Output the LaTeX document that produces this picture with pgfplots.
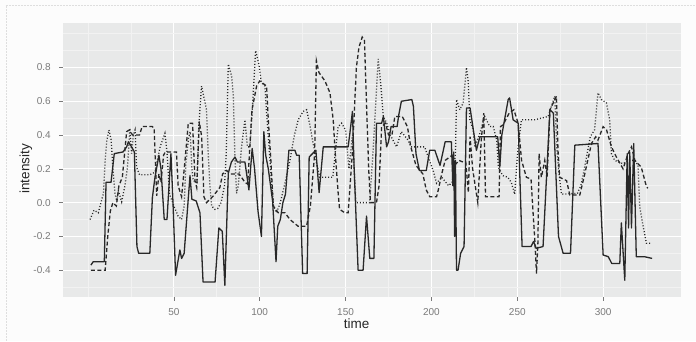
\documentclass[border=0pt]{standalone}
\usepackage{pgfplots}
\pgfplotsset{compat=1.18}
\usepackage{fontspec}
\setmainfont{Liberation Sans}
\definecolor{panelbg}{RGB}{232,233,233}
\definecolor{minorgrid}{RGB}{242,242,242}
\definecolor{ticklab}{RGB}{122,122,122}
\definecolor{linec}{RGB}{40,40,40}
\definecolor{pagebg}{RGB}{252,252,252}
\definecolor{framec}{RGB}{222,222,222}
\begin{document}
\begin{tikzpicture}[x=1pt,y=1pt]
\fill[pagebg] (0,0) rectangle (696,341);
\draw[framec, densely dotted, line width=0.5pt] (6,0) -- (6,336) -- (696,336);
\begin{axis}[
  at={(63.3pt,44pt)}, anchor=south west,
  scale only axis, width=617.7pt, height=274.3pt,
  xmin=-14.4, xmax=345.2, ymin=-0.558, ymax=1.065,
  axis background/.style={fill=panelbg},
  axis line style={draw=none},
  xtick={50,100,150,200,250,300},
  xticklabels={50,100,150,200,250,300},
  minor xtick={0,25,75,125,175,225,275,325},
  ytick={-0.4,-0.2,0,0.2,0.4,0.6,0.8},
  yticklabels={-0.4,-0.2,0.0,0.2,0.4,0.6,0.8},
  minor ytick={-0.5,-0.3,-0.1,0.1,0.3,0.5,0.7,0.9,1.0},
  grid=both,
  major grid style={white, line width=0.9pt},
  minor grid style={minorgrid, line width=0.6pt},
  tick align=outside,
  major tick length=4pt, minor tick length=0pt,
  tick style={ticklab, line width=0.5pt},
  xtick pos=bottom, ytick pos=left,
  /pgf/number format/assume math mode=true,
  ticklabel style={font=\fontsize{10}{12}\selectfont, text=ticklab, inner sep=0pt},
  xticklabel style={anchor=center, yshift=-11pt},
  yticklabel style={anchor=east, xshift=-8.4pt},
  xlabel={time},
  xlabel style={font=\fontsize{13.5}{15}\selectfont, text=black!85, at={(axis description cs:0.475,0)}, anchor=center, yshift=-26.3pt},
  clip=true,
]
% solid
\addplot[linec, line width=1.3pt, line join=round] coordinates {
(1.7,-0.37)(3,-0.35)(9.5,-0.35)(10.5,0.12)(13.4,0.12)(15.3,0.29)(20.4,0.30)(22.5,0.33)(23.5,0.36)(25.4,0.33)(27,0.30)(28.5,-0.26)(29.5,-0.30)(36,-0.30)(37.5,0.03)(39,0.15)(41.3,0.28)(42.5,0.2)(44.4,-0.10)(46,-0.10)(48.3,0.29)(49.5,0.0)(51,-0.43)(53.5,-0.28)(54.5,-0.33)(56,-0.3)(59.4,0.16)(60.5,0.02)(63,0.01)(65.2,-0.06)(67,-0.47)(74,-0.47)(76.2,-0.15)(78.2,-0.17)(79.7,-0.49)(81.7,0.175)(83.5,0.24)(85.6,0.27)(87,0.24)(91.4,0.24)(93.7,0.075)(95.6,0.32)(97,0.2)(99,-0.05)(101,-0.20)(102.4,0.42)(103.5,0.28)(105,0.2)(107.5,0.01)(109.5,-0.35)(110.5,-0.14)(112,-0.1)(113.5,0.0)(115,0.05)(117,0.31)(120.5,0.31)(121.5,0.28)(123,0.28)(125,-0.42)(127.6,-0.42)(128.8,0.27)(132.7,0.31)(134.6,0.06)(137,0.33)(151.5,0.33)(152.5,0.41)(154,0.54)(155,0.2)(157.3,-0.40)(160.2,-0.40)(162.2,-0.08)(164.1,-0.33)(166.5,-0.33)(168,0.47)(171,0.47)(172,0.51)(173.9,0.33)(175,0.36)(176.5,0.45)(180,0.45)(181,0.52)(182.5,0.6)(188.6,0.61)(189.5,0.57)(191,0.29)(193,0.19)(197,0.19)(199,0.31)(202,0.31)(205,0.22)(208,0.36)(211.6,0.36)(212.5,0.1)(213,0.3)(213.5,-0.2)(214,0.25)(214.6,-0.40)(215.5,-0.40)(217,-0.3)(219,-0.26)(220.4,0.56)(222.5,0.56)(226.2,0.31)(228.2,0.39)(238.6,0.39)(239.8,0.21)(241,0.4)(244.7,0.61)(245.5,0.62)(247.6,0.49)(250.5,0.47)(252.8,-0.26)(258,-0.26)(259.5,-0.23)(261,-0.27)(265,-0.26)(269,0.55)(271,0.53)(274,-0.2)(276.7,-0.30)(281,-0.30)(283.5,0.34)(297,0.35)(300,-0.31)(303,-0.32)(305,-0.36)(309.7,-0.36)(310.6,-0.12)(312.6,-0.46)(314,0.29)(314.8,-0.15)(315.5,0.3)(316.5,-0.15)(317.8,0.35)(319.3,-0.32)(324,-0.32)(328.5,-0.33)
};
% dashed
\addplot[linec, line width=1.3pt, dash pattern=on 4pt off 2.5pt] coordinates {
(1.7,-0.40)(10,-0.40)(11.5,-0.2)(13,-0.05)(14.5,0.0)(16.5,-0.02)(18,0.1)(20,0.15)(22.5,0.42)(24,0.43)(26,0.40)(30,0.40)(31.5,0.45)(37.5,0.45)(38.5,0.44)(39.5,0.17)(40,0.04)(41.3,0.17)(42.5,0.12)(44,0.28)(45,0.30)(51.5,0.30)(52.5,0.1)(54.5,0.035)(56.5,0.25)(58.4,0.47)(60.9,0.47)(62.3,0.13)(63.3,0.09)(64.8,0.48)(66.2,0.39)(67.5,0.035)(69,0.0)(73,0.04)(76.8,0.09)(78.4,0.17)(80.7,0.19)(83,0.17)(88,0.17)(91.4,0.12)(93,0.11)(95.5,0.55)(98.2,0.69)(100,0.72)(104,0.69)(105,0.49)(106.5,0.25)(107.9,-0.02)(110.8,-0.06)(114.7,-0.06)(117.6,-0.10)(122.4,-0.14)(127.3,-0.14)(129.5,-0.02)(132,0.29)(133,0.84)(134.5,0.77)(138,0.72)(140.9,0.65)(142.8,0.49)(144,0.29)(145.7,0.055)(146.5,-0.04)(149.6,-0.06)(151.5,-0.06)(154,0.3)(156.3,0.8)(157.8,0.92)(159.7,0.98)(161,0.96)(162.5,0.49)(163.5,0.19)(164.5,0.0)(168,0.0)(169.5,0.1)(171,0.45)(173.3,0.47)(175,0.40)(177,0.40)(178.7,0.51)(183,0.51)(186,0.45)(188,0.33)(191,0.22)(195,0.17)(197,0.075)(199,0.035)(203,0.035)(204,0.075)(206,0.17)(208,0.25)(212,0.28)(213.5,0.22)(216,0.25)(218.5,0.24)(220,0.24)(221.5,0.06)(222.5,0.39)(224,0.2)(227,0.0)(229,0.37)(230.5,0.53)(231.5,0.035)(235,0.035)(239.4,0.035)(240.2,0.45)(241.7,0.46)(245.3,0.53)(248,0.55)(250.5,0.47)(252.5,0.25)(255.3,0.15)(258,0.14)(259.2,-0.06)(260.2,-0.22)(261.2,-0.42)(262,-0.24)(262.7,0.29)(264,0.15)(266,0.25)(267.4,0.15)(269,0.55)(272.8,0.63)(273.7,0.31)(274.7,0.15)(276.7,0.14)(278.7,0.13)(280.6,0.045)(286.4,0.045)(289.3,0.17)(293.2,0.35)(295.7,0.39)(297,0.37)(300,0.45)(302,0.43)(304.8,0.33)(307.7,0.27)(311.6,0.2)(314.5,0.29)(316.5,0.33)(318.5,0.25)(320.3,0.23)(322.2,0.21)(325.2,0.095)(326,0.085)
};
% dotted
\addplot[linec, line width=1.3pt, dash pattern=on 1pt off 2pt] coordinates {
(1.2,-0.10)(3.5,-0.045)(6,-0.06)(9,0.055)(10,0.25)(11,0.37)(12.2,0.43)(13.5,0.37)(14.5,0.2)(15.7,0.055)(16.7,0.01)(17.7,0.07)(19.6,0.005)(21.5,0.1)(23,0.21)(24.4,0.44)(25.4,0.29)(26.4,0.40)(27.4,0.43)(28.3,0.21)(30,0.165)(36,0.165)(39,0.18)(42,0.33)(44.8,0.41)(46,0.3)(47.5,0.05)(50,-0.02)(52.5,-0.08)(54.5,-0.10)(56,-0.02)(57,0.23)(58.5,0.38)(59.5,0.42)(60.5,0.2)(61.3,0.13)(63.5,0.12)(64.5,0.45)(66.1,0.69)(68,0.6)(69,0.55)(70,0.29)(71,0.1)(72,-0.02)(73.9,-0.04)(75.5,-0.035)(77.5,0.0)(79.5,0.1)(80.5,0.29)(81.7,0.82)(83.6,0.75)(84.6,0.64)(85.5,0.29)(86.5,0.055)(87.5,0.1)(89.4,0.33)(91.4,0.49)(92.8,0.33)(94.3,0.33)(96.2,0.64)(97.6,0.90)(99.5,0.82)(101,0.71)(103,0.69)(104,0.53)(106,0.25)(107,0.1)(108,-0.02)(109.8,-0.06)(112,0.0)(114.7,0.115)(117.6,0.25)(120,0.39)(122.4,0.49)(125.3,0.54)(127.3,0.55)(129,0.47)(131.1,0.35)(132,0.31)(133,0.24)(135,0.15)(142.6,0.15)(144,0.3)(145.7,0.45)(147.7,0.47)(150,0.43)(152,0.2)(154,0.4)(156,0.0)(164,0.0)(166,0.3)(169,0.85)(170.5,0.7)(172,0.51)(174,0.47)(176,0.40)(179.7,0.33)(182.5,0.42)(186.4,0.37)(188,0.33)(196,0.33)(201,0.19)(203,0.115)(206,0.15)(210,0.1)(212,0.12)(214,0.29)(214.6,0.61)(216.5,0.55)(218.5,0.59)(220.4,0.80)(221.4,0.72)(222.4,0.49)(224.3,0.43)(225.3,0.33)(228.2,0.41)(231,0.51)(234,0.45)(236,0.45)(238,0.37)(239,0.21)(241.5,0.16)(244.5,0.15)(246.5,0.12)(248.5,0.05)(249.5,0.2)(250.5,0.33)(252.4,0.49)(260,0.49)(268,0.51)(271.8,0.63)(273,0.33)(274,0.2)(275.7,0.05)(285,0.055)(287,0.1)(288.5,0.17)(290.5,0.28)(292.5,0.39)(295,0.43)(297,0.65)(299,0.61)(301.9,0.59)(303.8,0.49)(304.8,0.29)(306.7,0.25)(311.6,0.23)(314.5,0.25)(318.5,0.25)(320.3,0.22)(321.3,-0.025)(323.3,-0.14)(325.2,-0.24)(328,-0.24)
};
\end{axis}
\node[rotate=90, font=\fontsize{13.5}{15}\selectfont, text=black!85, anchor=center] at (26,172) {intensity};
\end{tikzpicture}
\end{document}
